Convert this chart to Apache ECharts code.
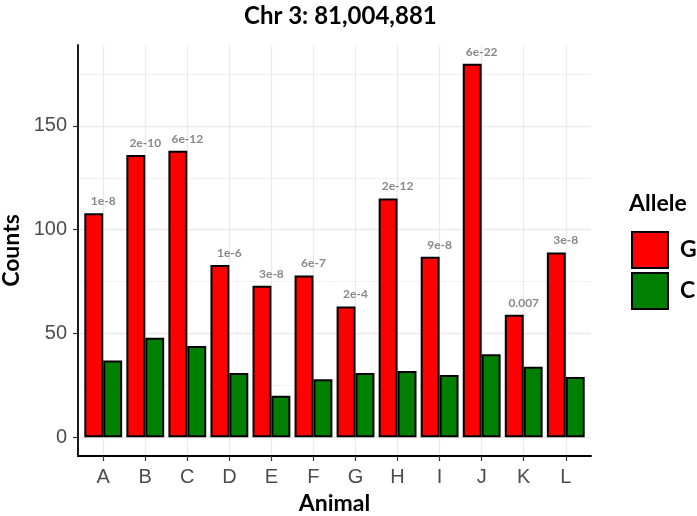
<!DOCTYPE html>
<html>
<head>
<meta charset="utf-8">
<script src="https://cdn.jsdelivr.net/npm/echarts@6/dist/echarts.min.js"></script>
<style>
html,body{margin:0;padding:0;background:#fff;}
#chart{width:697px;height:516px;}
</style>
</head>
<body>
<div id="chart"></div>
<script>
// ---- data ----
var animals = ['A','B','C','D','E','F','G','H','I','J','K','L'];
var countsG = [108,136,138,83,73,78,63,115,87,180,59,89];
var countsC = [37,48,44,31,20,28,31,32,30,40,34,29];
var pvalues = ['1e-8','2e-10','6e-12','1e-6','3e-8','6e-7','2e-4','2e-12','9e-8','6e-22','0.007','3e-8'];
var yMajorTicks = [0,50,100,150];
var yMinorTicks = [25,75,125,175];
var alleles = ['G','C'];

var positions = animals.map(function(a,i){return i+1;});
var gData = countsG.map(function(v,i){return [positions[i], v];});
var cData = countsC.map(function(v,i){return [positions[i], v];});

var chart = echarts.init(document.getElementById('chart'), null, {renderer:'canvas'});
var boldFont = 'Lato';
var option = {
  animation:false,
  backgroundColor:'#ffffff',
  title:[
    {text:'Chr 3: 81,004,881', left:244, top:4, padding:0,
     textStyle:{fontFamily:boldFont, fontWeight:'bold', fontSize:24, color:'#000'}},
    {text:'Allele', left:629, top:192, padding:0,
     textStyle:{fontFamily:boldFont, fontWeight:'bold', fontSize:23, color:'#000'}}
  ],
  legend:{
    data:alleles, orient:'vertical', left:631, top:231, padding:0,
    itemWidth:36, itemHeight:36, itemGap:3, icon:'rect',
    itemStyle:{borderColor:'#000', borderWidth:2},
    textStyle:{fontFamily:boldFont, fontWeight:'bold', fontSize:23, color:'#000', padding:[0,0,0,7]}
  },
  grid:{left:78, right:106, top:45, bottom:60, containLabel:false, outerBoundsMode:'none'},
  xAxis:[{
    type:'value', min:0.4, max:12.6,
    name:'Animal', nameLocation:'middle', nameGap:36,
    nameTextStyle:{fontFamily:boldFont, fontWeight:'bold', fontSize:23, color:'#000'},
    axisLine:{show:true, onZero:false, lineStyle:{color:'#000', width:1.8}},
    axisTick:{show:true, length:5, customValues:positions, lineStyle:{color:'#333', width:1.2}},
    axisLabel:{show:true, customValues:positions, margin:11,
      fontFamily:'Liberation Sans', fontSize:20, color:'#4d4d4d',
      formatter:function(v){return animals[Math.round(v)-1] || '';}},
    splitLine:{show:true, lineStyle:{color:'#ebebeb', width:1.4}}
  }],
  yAxis:[{
    type:'value', min:-9, max:189,
    name:'Counts', nameLocation:'middle', nameGap:54, nameRotate:90,
    nameTextStyle:{fontFamily:boldFont, fontWeight:'bold', fontSize:23, color:'#000'},
    axisLine:{show:true, onZero:false, lineStyle:{color:'#000', width:1.8}},
    axisTick:{show:true, length:5, customValues:yMajorTicks, lineStyle:{color:'#333', width:1.2}},
    axisLabel:{show:true, customValues:yMajorTicks, margin:11,
      fontFamily:'Liberation Sans', fontSize:20, color:'#4d4d4d'},
    splitLine:{show:true, lineStyle:{color:'#ebebeb', width:1.4}}
  },{
    type:'value', min:-9, max:189,
    axisLine:{show:false},
    axisTick:{show:false, customValues:yMinorTicks},
    axisLabel:{show:false, customValues:yMinorTicks},
    splitLine:{show:true, lineStyle:{color:'#f1f1f1', width:1}}
  }],
  series:[
    {name:'G', type:'bar', data:gData, barCategoryGap:'10%', barGap:'0%',
     itemStyle:{color:'#ff0000', borderColor:'#000', borderWidth:2}},
    {name:'C', type:'bar', data:cData, barCategoryGap:'10%', barGap:'0%',
     itemStyle:{color:'#008000', borderColor:'#000', borderWidth:2}},
    {name:'pval', type:'scatter', data:gData, symbolSize:0, silent:true,
     label:{show:true, position:'top', distance:6,
       formatter:function(p){return pvalues[p.dataIndex];},
       fontFamily:boldFont, fontWeight:'bold', fontSize:12, color:'#6a6a6a'}}
  ]
};
chart.setOption(option);
</script>
</body>
</html>
